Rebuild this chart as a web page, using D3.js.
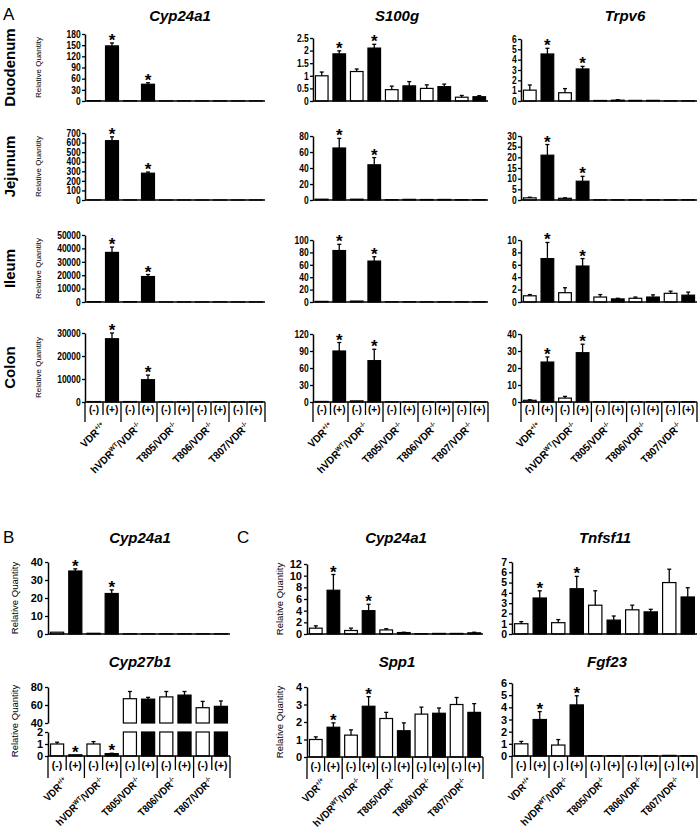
<!DOCTYPE html>
<html><head><meta charset="utf-8">
<script src="https://cdn.jsdelivr.net/npm/d3@7"></script>
<style>
body{margin:0;background:#fff}
svg{display:block}
text{font-family:"Liberation Sans",Arial,sans-serif;fill:#000}
</style>
</head><body><svg id="c" width="700" height="829"></svg>
<script>
// ---------- data ----------
const groupLabels = ["VDR^{+/+}", "hVDR^{WT}/VDR^{-/-}", "T805/VDR^{-/-}", "T806/VDR^{-/-}", "T807/VDR^{-/-}"];
const treatments = ["(-)", "(+)"];
const significant = [false, true, false, true, false, false, false, false, false, false];
const tissues = ["Duodenum", "Jejunum", "Ileum", "Colon"];
const genesA = ["Cyp24a1", "S100g", "Trpv6"];

// Panel A – Duodenum
const duoCyp24a1 = [1, 148, 0.8, 45, 0.4, 0.4, 0.4, 0.4, 0.4, 0.4];
const duoCyp24a1Err = [0, 8, 0, 4, 0, 0, 0, 0, 0, 0];
const duoCyp24a1Ticks = [0, 30, 60, 90, 120, 150, 180];
const duoS100g = [1.0, 1.87, 1.17, 2.1, 0.45, 0.6, 0.5, 0.57, 0.15, 0.17];
const duoS100gErr = [0.15, 0.12, 0.1, 0.15, 0.14, 0.17, 0.14, 0.1, 0.07, 0.04];
const duoS100gTicks = [0, 0.5, 1, 1.5, 2, 2.5];
const duoTrpv6 = [1.05, 4.55, 0.8, 3.1, 0.05, 0.08, 0.06, 0.06, 0.02, 0.02];
const duoTrpv6Err = [0.5, 0.55, 0.4, 0.25, 0, 0.04, 0, 0, 0, 0];
const duoTrpv6Ticks = [0, 1, 2, 3, 4, 5, 6];
// Jejunum
const jejCyp24a1 = [1, 620, 1, 280, 0.5, 0.5, 0.5, 0.5, 0.5, 0.5];
const jejCyp24a1Err = [0, 40, 0, 12, 0, 0, 0, 0, 0, 0];
const jejCyp24a1Ticks = [0, 100, 200, 300, 400, 500, 600, 700];
const jejS100g = [1, 65, 1, 44, 0.4, 0.8, 0.6, 0.7, 0.4, 0.4];
const jejS100gErr = [0, 12, 0, 9, 0, 0, 0, 0, 0, 0];
const jejS100gTicks = [0, 20, 40, 60, 80];
const jejTrpv6 = [1, 21, 0.8, 8.8, 0.1, 0.1, 0.15, 0.1, 0.1, 0.1];
const jejTrpv6Err = [0.3, 5, 0.2, 2.3, 0, 0, 0, 0, 0, 0];
const jejTrpv6Ticks = [0, 5, 10, 15, 20, 25, 30];
// Ileum
const ileCyp24a1 = [300, 37000, 300, 19000, 100, 100, 100, 100, 100, 100];
const ileCyp24a1Err = [0, 4000, 0, 1500, 0, 0, 0, 0, 0, 0];
const ileCyp24a1Ticks = [0, 10000, 20000, 30000, 40000, 50000];
const ileS100g = [1, 83, 1.5, 66, 0.3, 0.3, 0.3, 0.3, 0.3, 0.3];
const ileS100gErr = [0, 10, 0, 7, 0, 0, 0, 0, 0, 0];
const ileS100gTicks = [0, 20, 40, 60, 80, 100];
const ileTrpv6 = [1.0, 7.0, 1.5, 5.8, 0.8, 0.5, 0.6, 0.8, 1.4, 1.1];
const ileTrpv6Err = [0.2, 2.6, 0.8, 1.2, 0.4, 0.1, 0.2, 0.35, 0.35, 0.5];
const ileTrpv6Ticks = [0, 2, 4, 6, 8, 10];
// Colon
const colCyp24a1 = [200, 27500, 200, 9700, 100, 100, 100, 100, 100, 100];
const colCyp24a1Err = [0, 2500, 0, 2000, 0, 0, 0, 0, 0, 0];
const colCyp24a1Ticks = [0, 10000, 20000, 30000];
const colS100g = [1, 90, 2, 73, 0.3, 0.3, 0.6, 0.3, 0.3, 0.3];
const colS100gErr = [0, 15, 0, 20, 0, 0, 0, 0, 0, 0];
const colS100gTicks = [0, 30, 60, 90, 120];
const colTrpv6 = [1.0, 23.5, 2.3, 29, 0.2, 0.2, 0.2, 0.2, 0.2, 0.2];
const colTrpv6Err = [0.3, 3, 1, 5, 0, 0, 0, 0, 0, 0];
const colTrpv6Ticks = [0, 10, 20, 30, 40];

// Panel B
const bCyp24a1 = [1.0, 35, 0.4, 22.5, 0.1, 0.1, 0.1, 0.1, 0.1, 0.1];
const bCyp24a1Err = [0, 1.2, 0, 2, 0, 0, 0, 0, 0, 0];
const bCyp24a1Ticks = [0, 10, 20, 30, 40];
const bCyp27b1 = [1.0, 0.1, 1.0, 0.2, 67, 66.5, 69, 71, 57, 58.5];
const bCyp27b1Err = [0.15, 0, 0.2, 0.03, 8, 2, 6, 4, 7, 6];
const bCyp27b1TicksLow = [0, 1, 2];
const bCyp27b1TicksHigh = [40, 60, 80];

// Panel C
const cCyp24a1 = [1.0, 7.5, 0.6, 4.0, 0.7, 0.25, 0.05, 0.1, 0.1, 0.2];
const cCyp24a1Err = [0.4, 2.7, 0.4, 1.1, 0.2, 0.05, 0, 0, 0, 0.1];
const cCyp24a1Ticks = [0, 2, 4, 6, 8, 10, 12];
const cTnfsf11 = [1.0, 3.5, 1.1, 4.4, 2.8, 1.35, 2.35, 2.15, 5.0, 3.6];
const cTnfsf11Err = [0.2, 0.7, 0.3, 1.2, 1.4, 0.4, 0.45, 0.25, 1.3, 0.9];
const cTnfsf11Ticks = [0, 1, 2, 3, 4, 5, 6, 7];
const cSpp1 = [1.0, 1.7, 1.25, 2.9, 2.2, 1.5, 2.45, 2.5, 3.0, 2.55];
const cSpp1Err = [0.15, 0.25, 0.3, 0.55, 0.35, 0.45, 0.4, 0.3, 0.4, 0.5];
const cSpp1Ticks = [0, 1, 2, 3, 4];
const cFgf23 = [1.0, 3.0, 0.9, 4.2, 0.02, 0.02, 0.02, 0.02, 0.05, 0.02];
const cFgf23Err = [0.2, 0.65, 0.45, 0.75, 0, 0, 0, 0, 0, 0];
const cFgf23Ticks = [0, 1, 2, 3, 4, 5, 6];

// ---------- drawing ----------
const svg = d3.select("#c");
svg.append("rect").attr("width", 700).attr("height", 829).attr("fill", "#fff");

const SANS = '"Liberation Sans",Arial,sans-serif';

function richText(sel, label) {
  const parts = label.split(/(\^\{[^}]*\})/).filter(p => p.length);
  let shifted = false;
  parts.forEach(p => {
    const sup = p.startsWith("^{");
    const t = sel.append("tspan").text(sup ? p.slice(2, -1) : p);
    if (sup) { t.attr("font-size", "62%").attr("dy", shifted ? 0 : -4); shifted = true; }
    else { if (shifted) t.attr("dy", 4); shifted = false; }
  });
}

function xScale(c) {
  return d3.scaleBand().domain(d3.range(c.values.length)).range([c.x0, c.x1])
    .paddingInner(0.28).paddingOuter(0.14);
}

function styleAxis(g, fontSize, squeeze) {
  g.select(".domain").attr("stroke", "#000").attr("stroke-width", 1.5);
  g.selectAll(".tick line").attr("stroke", "#000").attr("stroke-width", 1.3);
  const tt = g.selectAll(".tick text").attr("font-size", fontSize).attr("font-weight", "bold")
    .attr("font-family", SANS).attr("fill", "#000");
  if (squeeze) tt.attr("transform", `scale(${squeeze},1)`);
}

function drawBarsAndErr(g, c, x, yOf) {
  const bw = x.bandwidth();
  c.values.forEach((v, i) => {
    c.segments(v).forEach(s => {
      g.append("rect").attr("x", x(i)).attr("width", bw)
        .attr("y", s.y).attr("height", Math.max(0, s.h))
        .attr("fill", i % 2 ? "#000" : "#fff").attr("stroke", "#000").attr("stroke-width", 1.2);
    });
    const e = c.err[i];
    const cx = x(i) + bw / 2;
    let topY = yOf(v);
    if (e > 0) {
      const ey = yOf(v + e);
      g.append("line").attr("x1", cx).attr("x2", cx).attr("y1", topY).attr("y2", ey)
        .attr("stroke", "#000").attr("stroke-width", 1.3);
      g.append("line").attr("x1", cx - 2).attr("x2", cx + 2).attr("y1", ey).attr("y2", ey)
        .attr("stroke", "#000").attr("stroke-width", 1.3);
      topY = ey;
    }
    if (significant[i]) {
      g.append("text").attr("x", cx).attr("y", topY + 3).attr("text-anchor", "middle")
        .attr("font-size", 17).attr("font-weight", "bold").text("*");
    }
  });
}

function drawXLabels(g, c, x, y0) {
  const step = x.step();
  const o = c.xl;
  c.values.forEach((v, i) => {
    g.append("text").attr("x", x(i) + x.bandwidth() / 2).attr("y", y0 + o.textDy)
      .attr("text-anchor", "middle").attr("font-size", o.fs).attr("font-weight", "bold")
      .text(treatments[i % 2]);
  });
  for (let k = 0; k <= c.values.length; k++) {
    const xx = c.x0 + k * step;
    g.append("line").attr("x1", xx).attr("x2", xx).attr("y1", y0)
      .attr("y2", y0 + (k % 2 === 0 ? o.longLen : o.shortLen))
      .attr("stroke", "#000").attr("stroke-width", 1.3);
  }
  groupLabels.forEach((lab, gi) => {
    const cx = c.x0 + (2 * gi + 1) * step;
    const ax = cx + o.gdx, ay = y0 + o.longLen + o.gdy;
    const t = g.append("text").attr("transform", `translate(${ax},${ay}) rotate(-45) scale(${o.gsq},1)`)
      .attr("text-anchor", "end").attr("font-size", o.gfs).attr("font-weight", "bold");
    richText(t, lab);
  });
}

function drawLinear(c) {
  const g = svg.append("g");
  const x = xScale(c);
  const y = d3.scaleLinear().domain([0, d3.max(c.ticks)]).range([c.bottom, c.top]);
  c.segments = v => [{ y: y(v), h: y(0) - y(v) }];
  drawBarsAndErr(g, c, x, y);
  const ag = g.append("g").attr("transform", `translate(${c.x0},0)`)
    .call(d3.axisLeft(y).tickValues(c.ticks).tickSize(3).tickSizeOuter(0).tickPadding(2)
      .tickFormat(d => String(d)));
  styleAxis(ag, c.tfs, c.squeeze);
  g.append("line").attr("x1", c.x0).attr("x2", c.x1).attr("y1", y(0)).attr("y2", y(0))
    .attr("stroke", "#000").attr("stroke-width", 1.5);
  if (c.xl) drawXLabels(g, c, x, y(0));
}

function drawBroken(c) {
  const g = svg.append("g");
  const x = xScale(c);
  const yLow = d3.scaleLinear().domain([0, 2]).range([c.bottom, c.lowTop]);
  const yHigh = d3.scaleLinear().domain([40, 80]).range([c.highBottom, c.top]);
  const yOf = v => v <= 2 ? yLow(v) : yHigh(v);
  c.segments = v => v <= 2 ? [{ y: yLow(v), h: yLow(0) - yLow(v) }]
    : [{ y: yLow(2), h: yLow(0) - yLow(2) }, { y: yHigh(v), h: yHigh(40) - yHigh(v) }];
  drawBarsAndErr(g, c, x, yOf);
  [[yLow, bCyp27b1TicksLow], [yHigh, bCyp27b1TicksHigh]].forEach(([sc, tv]) => {
    const a = g.append("g").attr("transform", `translate(${c.x0},0)`)
      .call(d3.axisLeft(sc).tickValues(tv).tickSize(3).tickSizeOuter(0).tickPadding(2)
        .tickFormat(d => String(d)));
    styleAxis(a, c.tfs);
  });
  g.append("line").attr("x1", c.x0).attr("x2", c.x1).attr("y1", c.bottom).attr("y2", c.bottom)
    .attr("stroke", "#000").attr("stroke-width", 1.5);
  if (c.xl) drawXLabels(g, c, x, c.bottom);
}

function label(x, y, txt, opts = {}) {
  const t = svg.append("text").attr("x", x).attr("y", y).text(txt)
    .attr("font-size", opts.fs || 12).attr("font-weight", opts.bold ? "bold" : "normal")
    .attr("font-style", opts.italic ? "italic" : "normal")
    .attr("text-anchor", opts.anchor || "middle");
  if (opts.rotate) t.attr("transform", `rotate(-90,${x},${y})`);
  return t;
}

// ---- Panel A ----
const colsA = [{ x0: 85, x1: 265, tx: 180 }, { x0: 313, x1: 488, tx: 397 }, { x0: 521, x1: 697, tx: 625 }];
const rowBottoms = [101, 200, 302, 402];
const rowTops = [[34, 38, 39], [133, 136, 136], [235, 240, 240], [333, 334, 334]];
const dataA = [
  [[duoCyp24a1, duoCyp24a1Err, duoCyp24a1Ticks], [duoS100g, duoS100gErr, duoS100gTicks], [duoTrpv6, duoTrpv6Err, duoTrpv6Ticks]],
  [[jejCyp24a1, jejCyp24a1Err, jejCyp24a1Ticks], [jejS100g, jejS100gErr, jejS100gTicks], [jejTrpv6, jejTrpv6Err, jejTrpv6Ticks]],
  [[ileCyp24a1, ileCyp24a1Err, ileCyp24a1Ticks], [ileS100g, ileS100gErr, ileS100gTicks], [ileTrpv6, ileTrpv6Err, ileTrpv6Ticks]],
  [[colCyp24a1, colCyp24a1Err, colCyp24a1Ticks], [colS100g, colS100gErr, colS100gTicks], [colTrpv6, colTrpv6Err, colTrpv6Ticks]]
];
const xlA = { fs: 10, gfs: 10.5, gsq: 0.95, gdx: 3, gdy: 5, textDy: 11, shortLen: 13, longLen: 20 };
const xlBC = { fs: 10.5, gfs: 10.5, gsq: 0.9, gdx: 2, gdy: 4, textDy: 13, shortLen: 14, longLen: 22 };

label(3, 20, "A", { fs: 17, anchor: "start" });
genesA.forEach((gname, ci) => label(colsA[ci].tx, 21, gname, { fs: 15, bold: true, italic: true }));
tissues.forEach((tname, ri) => {
  const mid = (rowTops[ri][0] + rowBottoms[ri]) / 2;
  label(15, mid, tname, { fs: 15, bold: true, rotate: true });
  label(41, mid, "Relative Quantity", { fs: 8, rotate: true });
  dataA[ri].forEach((d, ci) => {
    drawLinear({
      values: d[0], err: d[1], ticks: d[2],
      x0: colsA[ci].x0, x1: colsA[ci].x1, top: rowTops[ri][ci], bottom: rowBottoms[ri],
      tfs: 10, squeeze: 0.85,
      xl: ri === 3 ? xlA : null
    });
  });
});

// ---- Panel B ----
label(3, 543, "B", { fs: 17, anchor: "start" });
label(140, 543, "Cyp24a1", { fs: 15, bold: true, italic: true });
label(18, 598, "Relative Quantity", { fs: 9.5, rotate: true });
drawLinear({ values: bCyp24a1, err: bCyp24a1Err, ticks: bCyp24a1Ticks, x0: 48, x1: 230, top: 562, bottom: 634, tfs: 11 });
label(140, 667, "Cyp27b1", { fs: 15, bold: true, italic: true });
label(18, 721, "Relative Quantity", { fs: 9.5, rotate: true });
drawBroken({ values: bCyp27b1, err: bCyp27b1Err, x0: 48, x1: 230, top: 687, highBottom: 723, lowTop: 732, bottom: 756, tfs: 11, xl: xlBC });

// ---- Panel C ----
label(237, 543, "C", { fs: 17, anchor: "start" });
label(396, 543, "Cyp24a1", { fs: 15, bold: true, italic: true });
label(605, 543, "Tnfsf11", { fs: 15, bold: true, italic: true });
label(283, 599, "Relative Quantity", { fs: 9.5, rotate: true });
drawLinear({ values: cCyp24a1, err: cCyp24a1Err, ticks: cCyp24a1Ticks, x0: 307, x1: 483, top: 564, bottom: 634, tfs: 11 });
drawLinear({ values: cTnfsf11, err: cTnfsf11Err, ticks: cTnfsf11Ticks, x0: 512, x1: 697, top: 562, bottom: 634, tfs: 10.5 });
label(397, 667, "Spp1", { fs: 15, bold: true, italic: true });
label(607, 667, "Fgf23", { fs: 15, bold: true, italic: true });
label(283, 722, "Relative Quantity", { fs: 9.5, rotate: true });
drawLinear({ values: cSpp1, err: cSpp1Err, ticks: cSpp1Ticks, x0: 307, x1: 483, top: 687, bottom: 757, tfs: 11, xl: xlBC });
drawLinear({ values: cFgf23, err: cFgf23Err, ticks: cFgf23Ticks, x0: 512, x1: 697, top: 683, bottom: 756, tfs: 11, xl: xlBC });
</script>
</body></html>
